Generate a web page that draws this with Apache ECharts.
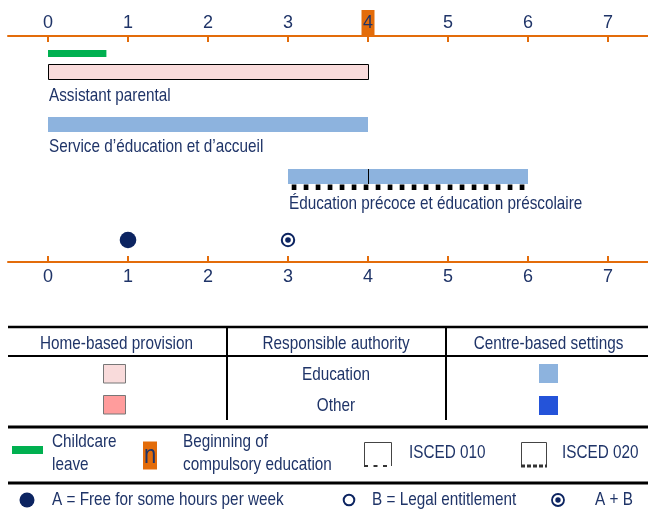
<!DOCTYPE html>
<html>
<head>
<meta charset="utf-8">
<script src="https://cdn.jsdelivr.net/npm/echarts@6/dist/echarts.min.js"></script>
<style>html,body{margin:0;padding:0;background:#fff;}#chart{width:648px;height:515px;}</style>
</head>
<body>
<div id="chart"></div>
<script>
// ---------- data ----------
const tickValues = [0, 1, 2, 3, 4, 5, 6, 7];
const services = ['Assistant parental', 'Service d’éducation et d’accueil', 'Éducation précoce et éducation préscolaire'];
const serviceStart = [0, 0, 3];
const serviceEnd = [4, 4, 6];
const serviceSetting = ['home', 'centre', 'centre'];
const serviceAuthority = ['Education', 'Education', 'Education'];
const serviceIsced = ['', '', '020'];
const leaveStart = [0];
const leaveEnd = [0.73];
const compulsoryAge = [4];
const entitlementAge = [1, 3];
const entitlementType = ['A', 'A+B'];

// ---------- style / layout ----------
const NAVY = '#1f3468';
const DOT = '#0c2461';
const ORANGE = '#e36c0a';
const GREEN = '#00b050';
const FONT = '"Liberation Sans", Arial, sans-serif';
const FS = 15.3, SY = 1.17;
const FILL = {
  home: {Education: '#f9dbdb', Other: '#ff9c9c'},
  centre: {Education: '#8db3de', Other: '#2453d9'}
};
const GRID_TOP = 36, GRID_H = 226;
const ROWS = [{bar: 28, label: 60.5}, {bar: 81, label: 110.8}, {bar: 133, label: 167.8}];
const BAR_H = 15;
const LEAVE_Y = 14, LEAVE_H = 7;
const DOT_Y = 204;

const chart = echarts.init(document.getElementById('chart'), null, {renderer: 'canvas'});

function leaveItem(params, api) {
  const s = api.coord([api.value(0), LEAVE_Y]);
  const e = api.coord([api.value(1), LEAVE_Y]);
  return {type: 'rect', shape: {x: s[0], y: s[1], width: e[0] - s[0], height: LEAVE_H}, style: {fill: GREEN}};
}

function serviceItem(params, api) {
  const i = api.value(2);
  const row = ROWS[i];
  const s = api.coord([api.value(0), row.bar]);
  const e = api.coord([api.value(1), row.bar]);
  const setting = serviceSetting[i];
  const children = [];
  const home = setting === 'home';
  children.push({
    type: 'rect',
    shape: {x: home ? s[0] + 0.5 : s[0], y: home ? s[1] + 0.5 : s[1], width: e[0] - s[0], height: BAR_H},
    style: {fill: FILL[setting][serviceAuthority[i]], stroke: home ? '#000' : null, lineWidth: home ? 1 : 0}
  });
  const ca = compulsoryAge[0];
  if (api.value(0) < ca && api.value(1) > ca) {
    const d = api.coord([ca, row.bar]);
    children.push({type: 'line', shape: {x1: Math.round(d[0]) + 0.5, y1: s[1], x2: Math.round(d[0]) + 0.5, y2: s[1] + BAR_H}, style: {stroke: '#000', lineWidth: 1}});
  }
  if (serviceIsced[i] === '020') {
    children.push({type: 'line', shape: {x1: s[0], y1: s[1] + BAR_H + 3.2, x2: e[0], y2: s[1] + BAR_H + 3.2},
      style: {stroke: '#000', lineWidth: 5.5, lineDash: [4.7, 7.3], lineDashOffset: 8.3}});
  } else if (serviceIsced[i] === '010') {
    children.push({type: 'line', shape: {x1: s[0], y1: s[1] + BAR_H + 2, x2: e[0], y2: s[1] + BAR_H + 2},
      style: {stroke: '#000', lineWidth: 2, lineDash: [6, 6]}});
  }
  const l = api.coord([api.value(0), row.label]);
  children.push({type: 'text', x: l[0] + 1, y: l[1], scaleY: SY, originX: 0, originY: 0,
    style: {text: services[i], x: 0, y: 0, fill: NAVY, fontSize: FS, fontFamily: FONT, align: 'left', verticalAlign: 'middle'}});
  return {type: 'group', children: children};
}

function compulsoryItem(params, api) {
  const p = api.coord([api.value(0), 0]);
  return {type: 'rect', shape: {x: p[0] - 6.5, y: p[1] - 26, width: 13, height: 26}, style: {fill: ORANGE}};
}

function dotItem(params, api) {
  const p = api.coord([api.value(0), DOT_Y]);
  const t = entitlementType[params.dataIndex];
  if (t === 'A') return {type: 'circle', shape: {cx: p[0], cy: p[1], r: 8.3}, style: {fill: DOT}};
  if (t === 'B') return {type: 'circle', shape: {cx: p[0], cy: p[1], r: 6}, style: {fill: '#fff', stroke: DOT, lineWidth: 2}};
  return {type: 'group', children: [
    {type: 'circle', shape: {cx: p[0], cy: p[1], r: 6.2}, style: {fill: '#fff', stroke: DOT, lineWidth: 2}},
    {type: 'circle', shape: {cx: p[0], cy: p[1], r: 2.8}, style: {fill: DOT}}
  ]};
}

const axisCommon = {
  type: 'value', min: -0.5, max: 7.5, z: 10,
  splitLine: {show: false},
  axisLine: {show: true, lineStyle: {color: ORANGE, width: 2}},
  axisTick: {show: true, inside: true, length: 6, lineStyle: {color: ORANGE, width: 2}, customValues: tickValues},
  axisLabel: {show: true, color: NAVY, fontSize: 18, fontFamily: FONT, customValues: tickValues}
};

// ---------- table & legend (static decoration) ----------
function txt(x, y, s, align, size) {
  return {type: 'text', x: x, y: y, scaleY: SY, originX: 0, originY: 0,
    style: {text: s, fill: NAVY, fontSize: size || FS, fontFamily: FONT, align: align || 'left', verticalAlign: 'middle'}};
}
function hline(y, w) { return {type: 'line', shape: {x1: 8, y1: y, x2: 648, y2: y}, style: {stroke: '#000', lineWidth: w}}; }
function vline(x, y1, y2) { return {type: 'line', shape: {x1: x, y1: y1, x2: x, y2: y2}, style: {stroke: '#000', lineWidth: 2}}; }
function box(x, y, w, h, fill, stroke) { return {type: 'rect', shape: {x: x, y: y, width: w, height: h}, style: {fill: fill, stroke: stroke || null, lineWidth: stroke ? 1 : 0}}; }

const graphics = [
  hline(327, 2.5), hline(356, 2), hline(427, 3), hline(483, 3),
  vline(227, 327, 420), vline(446, 327, 420),
  txt(116.5, 344.5, 'Home-based provision', 'center'),
  txt(336, 344.5, 'Responsible authority', 'center'),
  txt(548.5, 344.5, 'Centre-based settings', 'center'),
  box(103.5, 364.5, 22, 18.5, FILL.home.Education, '#777'),
  txt(336, 375, 'Education', 'center'),
  box(539, 364, 19, 19, FILL.centre.Education),
  box(103.5, 395.5, 22, 18.5, FILL.home.Other, '#777'),
  txt(336, 406, 'Other', 'center'),
  box(539, 396, 19, 19, FILL.centre.Other),
  box(12, 446, 31, 8, GREEN),
  txt(52, 442.5, 'Childcare'), txt(52, 465, 'leave'),
  box(143, 441.5, 14, 28, ORANGE),
  {type: 'text', x: 150, y: 456, scaleY: 1.15, originX: 0, originY: 0,
    style: {text: 'n', fill: NAVY, fontSize: 22, fontFamily: FONT, align: 'center', verticalAlign: 'middle'}},
  txt(183, 442.5, 'Beginning of'), txt(183, 465, 'compulsory education'),
  {type: 'polyline', shape: {points: [[364.5, 466], [364.5, 442.5], [391.5, 442.5], [391.5, 466]]}, style: {stroke: '#444', lineWidth: 1, fill: null}},
  {type: 'line', shape: {x1: 364, y1: 466, x2: 392, y2: 466}, style: {stroke: '#333', lineWidth: 2, lineDash: [4, 5.5]}},
  txt(409, 453, 'ISCED 010'),
  {type: 'polyline', shape: {points: [[521.5, 466], [521.5, 442.5], [546.5, 442.5], [546.5, 466]]}, style: {stroke: '#444', lineWidth: 1, fill: null}},
  {type: 'line', shape: {x1: 521, y1: 466, x2: 547, y2: 466}, style: {stroke: '#333', lineWidth: 3, lineDash: [4, 2]}},
  txt(562, 453, 'ISCED 020'),
  {type: 'circle', shape: {cx: 27, cy: 500, r: 7.5}, style: {fill: DOT}},
  txt(52, 500.5, 'A = Free for some hours per week'),
  {type: 'circle', shape: {cx: 349, cy: 500, r: 5.3}, style: {fill: '#fff', stroke: DOT, lineWidth: 2}},
  txt(372, 500.5, 'B = Legal entitlement'),
  {type: 'circle', shape: {cx: 558, cy: 500, r: 6}, style: {fill: '#fff', stroke: DOT, lineWidth: 1.8}},
  {type: 'circle', shape: {cx: 558, cy: 500, r: 2.7}, style: {fill: DOT}},
  txt(595, 500.5, 'A + B')
];

chart.setOption({
  animation: false,
  backgroundColor: '#fff',
  grid: {left: 8, top: GRID_TOP, width: 642.3, height: GRID_H, containLabel: false},
  xAxis: [
    Object.assign({}, axisCommon, {position: 'top', axisLabel: Object.assign({}, axisCommon.axisLabel, {margin: 4})}),
    Object.assign({}, axisCommon, {position: 'bottom', axisLabel: Object.assign({}, axisCommon.axisLabel, {margin: 6})})
  ],
  yAxis: {type: 'value', min: 0, max: GRID_H, inverse: true, show: false},
  series: [
    {type: 'custom', name: 'Compulsory', z: 1, renderItem: compulsoryItem, data: compulsoryAge.map(a => [a])},
    {type: 'custom', name: 'Childcare leave', z: 3, renderItem: leaveItem, data: leaveStart.map((s, i) => [s, leaveEnd[i]])},
    {type: 'custom', name: 'Services', z: 3, renderItem: serviceItem, data: services.map((n, i) => [serviceStart[i], serviceEnd[i], i])},
    {type: 'custom', name: 'Entitlement', z: 3, renderItem: dotItem, data: entitlementAge.map(a => [a])}
  ],
  graphic: graphics
});
</script>
</body>
</html>
